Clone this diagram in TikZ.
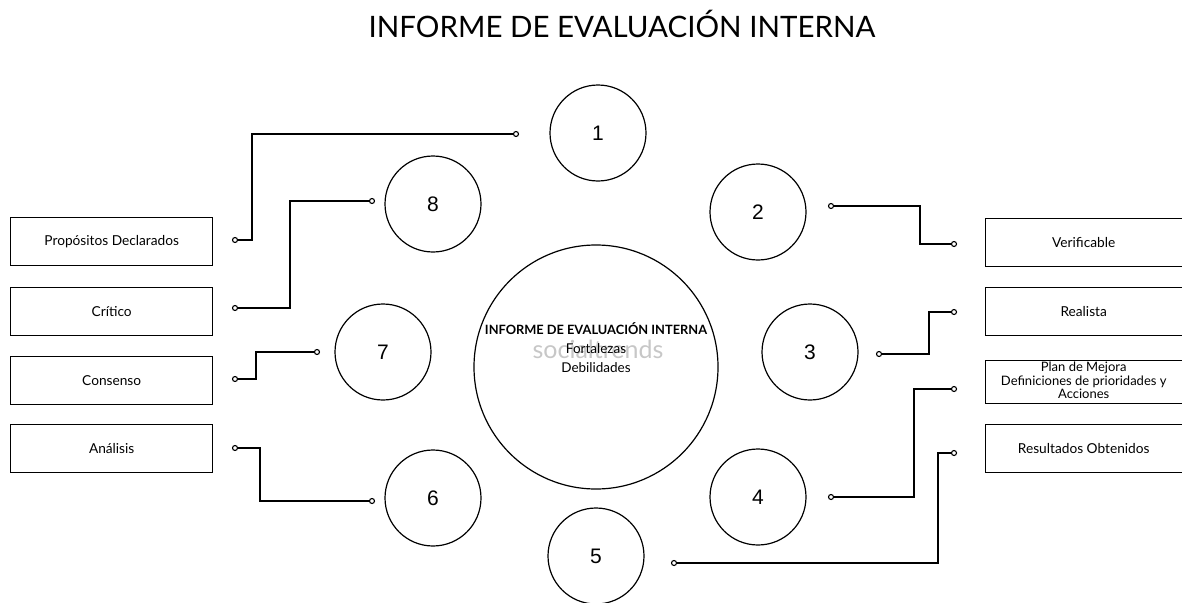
\documentclass[tikz,border=0pt]{standalone}
\usepackage{fontspec}
\setmainfont{Lato}
\newfontfamily\numfont{Liberation Sans}
\begin{document}
\begin{tikzpicture}[x=1pt,y=-1pt,
  bignum/.style={circle,draw,line width=1.2pt,minimum size=96pt,inner sep=0pt,font=\numfont\fontsize{21}{21}\selectfont},
  hub/.style={circle,draw,line width=1.2pt,minimum size=244pt,inner sep=0pt},
  labelbox/.style={draw,line width=1.4pt,anchor=north west,inner sep=0pt,align=center,font=\fontsize{13.7}{14}\selectfont},
  pin/.style={circle,draw,line width=1.1pt,fill=white,inner sep=0pt,minimum size=5pt},
  wire/.style={line width=1.3pt}]
\useasboundingbox (0,0) rectangle (1182,602);
\clip (0,0) rectangle (1182,602);
% title
\node (title) at (622,24) {\fontsize{29.5}{30}\selectfont INFORME DE EVALUACIÓN INTERNA};
% hub
\node[hub] (hub) at (596,367) {};
\node[text=black!22,font=\fontsize{25}{25}\selectfont,inner sep=0pt] (wm) at (598,349) {socialtrends};
\node[font=\bfseries\fontsize{12.8}{13}\selectfont] (ht) at (596,329) {INFORME DE EVALUACIÓN INTERNA};
\node[font=\fontsize{13.5}{18.5}\selectfont,align=center] (hs) at (596,358) {Fortalezas\\Debilidades};
% numbered circles
\node[bignum] (c1) at (598,133) {1};
\node[bignum] (c2) at (758,212) {2};
\node[bignum] (c3) at (810,352) {3};
\node[bignum] (c4) at (758,497) {4};
\node[bignum] (c5) at (596,556) {5};
\node[bignum] (c6) at (433,498) {6};
\node[bignum] (c7) at (383,352) {7};
\node[bignum] (c8) at (433,204) {8};
% left boxes
\node[labelbox,minimum width=202pt,minimum height=48pt] (b1) at (10,217) {Propósitos Declarados};
\node[labelbox,minimum width=202pt,minimum height=48pt] (b2) at (10,287) {Crítico};
\node[labelbox,minimum width=202pt,minimum height=48pt] (b3) at (10,356) {Consenso};
\node[labelbox,minimum width=202pt,minimum height=48pt] (b4) at (10,424) {Análisis};
% right boxes
\node[labelbox,minimum width=210pt,minimum height=48pt] (r1) at (985,218) {\hspace*{-14pt}Verificable};
\node[labelbox,minimum width=210pt,minimum height=48pt] (r2) at (985,287) {\hspace*{-14pt}Realista};
\node[labelbox,minimum width=210pt,minimum height=43pt,font=\fontsize{13}{12.5}\selectfont] (r3) at (985,360) {\hspace*{-14pt}\begin{tabular}{@{}c@{}}Plan de Mejora\\Definiciones de prioridades y\\Acciones\end{tabular}};
\node[labelbox,minimum width=210pt,minimum height=48pt] (r4) at (985,424) {\hspace*{-14pt}Resultados Obtenidos};
% pins
\node[pin] (p1) at (516,134) {};
\node[pin] (q1) at (235,240) {};
\node[pin] (p8) at (372,201) {};
\node[pin] (q8) at (235,308) {};
\node[pin] (p7) at (317,352) {};
\node[pin] (q7) at (235,379) {};
\node[pin] (p6) at (372,501) {};
\node[pin] (q6) at (235,448) {};
\node[pin] (p2) at (831,206) {};
\node[pin] (q2) at (954,244) {};
\node[pin] (p3) at (879,354) {};
\node[pin] (q3) at (954,312) {};
\node[pin] (p4) at (831,497) {};
\node[pin] (q4) at (954,389) {};
\node[pin] (p5) at (674,563) {};
\node[pin] (q5) at (954,453) {};
% bends
\coordinate (j1) at (252,180);
\coordinate (j8) at (290,250);
\coordinate (j7) at (256,365);
\coordinate (j6) at (260,470);
\coordinate (j2) at (920,225);
\coordinate (j3) at (929,330);
\coordinate (j4) at (914,440);
\coordinate (j5) at (938,500);
% wires
\draw[wire] (p1.west) -| (j1) |- (q1.east);
\draw[wire] (p8.west) -| (j8) |- (q8.east);
\draw[wire] (p7.west) -| (j7) |- (q7.east);
\draw[wire] (q6.east) -| (j6) |- (p6.west);
\draw[wire] (p2.east) -| (j2) |- (q2.west);
\draw[wire] (p3.east) -| (j3) |- (q3.west);
\draw[wire] (p4.east) -| (j4) |- (q4.west);
\draw[wire] (p5.east) -| (j5) |- (q5.west);
\end{tikzpicture}
\end{document}
